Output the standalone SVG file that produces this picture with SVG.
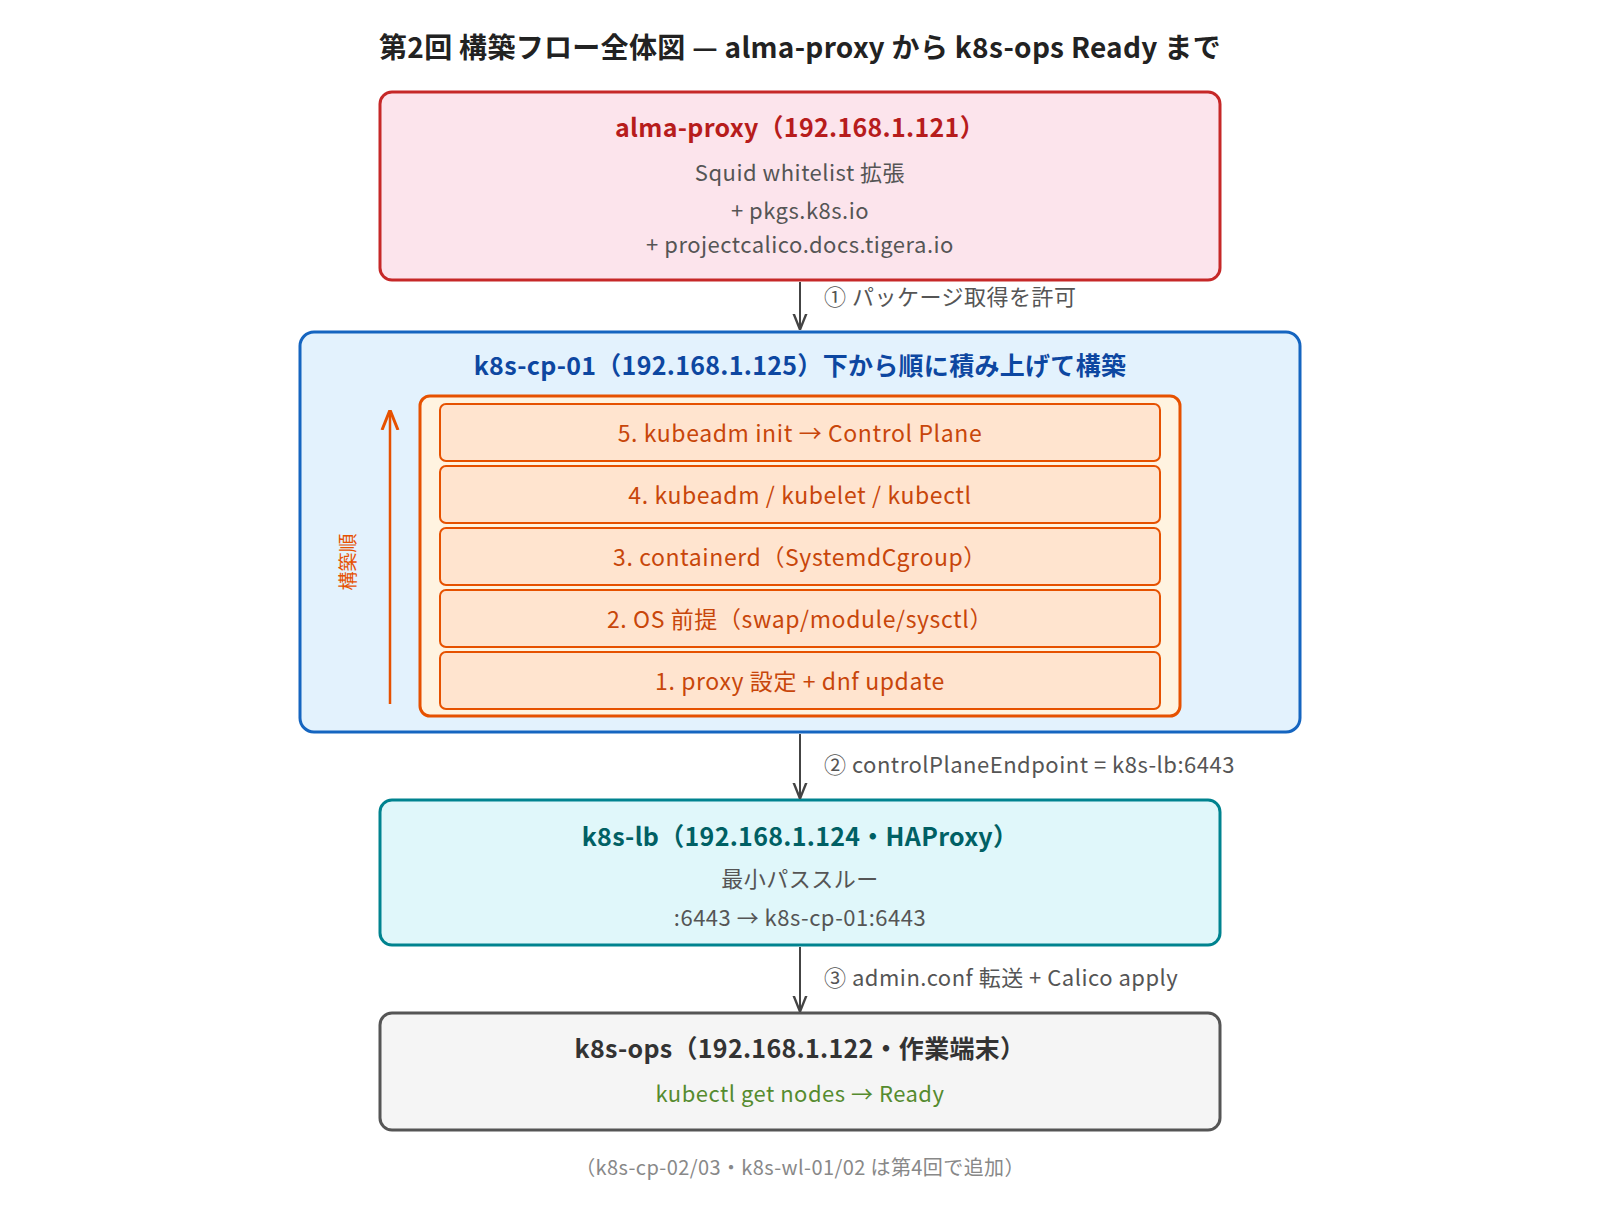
<svg xmlns="http://www.w3.org/2000/svg" width="1600" height="1220" viewBox="0 0 1600 1220">
<defs>
<style>
text{font-family:"Noto Sans CJK JP","Noto Sans",sans-serif;text-anchor:middle}
.t{font-size:25px;font-weight:bold;letter-spacing:0.3px}
.s{font-size:22px;fill:#555;letter-spacing:0.5px}
.l{font-size:22px;fill:#555;text-anchor:start;letter-spacing:0.5px}
.layer{fill:#ffe4cf;stroke:#e65100;stroke-width:2}
.lt{font-size:23px;fill:#c8460a;letter-spacing:0.6px}
.c{stroke:#444;stroke-width:2;fill:none}
</style>
<marker id="a" viewBox="0 0 10 10" refX="9" refY="5" markerWidth="8" markerHeight="8" orient="auto-start-reverse"><path d="M0,1 L10,5 L0,9" fill="none" stroke="#444" stroke-width="1.5"/></marker>
<marker id="ao" viewBox="0 0 10 10" refX="9" refY="5" markerWidth="8" markerHeight="8" orient="auto"><path d="M0,1 L10,5 L0,9" fill="none" stroke="#e65100" stroke-width="1.5"/></marker>
</defs>
<rect width="1600" height="1220" fill="#fff"/>
<text x="800" y="58" style="font-size:28px;font-weight:bold;fill:#222;letter-spacing:0.3px">第2回 構築フロー全体図 — alma-proxy から k8s-ops Ready まで</text>
<g id="alma-proxy">
<rect x="380" y="92" width="840" height="188" rx="12" fill="#fce4ec" stroke="#c62828" stroke-width="3"/>
<text x="800" y="137" class="t" fill="#b71c1c">alma-proxy（192.168.1.121）</text>
<text x="800" y="181" class="s">Squid whitelist 拡張</text>
<text x="800" y="219" class="s">+ pkgs.k8s.io</text>
<text x="800" y="253" class="s">+ projectcalico.docs.tigera.io</text>
</g>
<g id="k8s-cp-01">
<rect x="300" y="332" width="1000" height="400" rx="14" fill="#e3f2fd" stroke="#1565c0" stroke-width="3"/>
<text x="800" y="375" class="t" fill="#0d47a1">k8s-cp-01（192.168.1.125）下から順に積み上げて構築</text>
<rect x="420" y="396" width="760" height="320" rx="10" fill="#fff3e0" stroke="#e65100" stroke-width="3"/>
<rect class="layer" x="440" y="404" width="720" height="57" rx="6"/><text class="lt" x="800" y="442">5. kubeadm init → Control Plane</text>
<rect class="layer" x="440" y="466" width="720" height="57" rx="6"/><text class="lt" x="800" y="504">4. kubeadm / kubelet / kubectl</text>
<rect class="layer" x="440" y="528" width="720" height="57" rx="6"/><text class="lt" x="800" y="566">3. containerd（SystemdCgroup）</text>
<rect class="layer" x="440" y="590" width="720" height="57" rx="6"/><text class="lt" x="800" y="628">2. OS 前提（swap/module/sysctl）</text>
<rect class="layer" x="440" y="652" width="720" height="57" rx="6"/><text class="lt" x="800" y="690">1. proxy 設定 + dnf update</text>
<line x1="390" y1="704" x2="390" y2="412" stroke="#e65100" stroke-width="2.5" marker-end="url(#ao)"/>
<text x="0" y="0" transform="translate(355,562) rotate(-90)" style="font-size:19px;fill:#e65100">構築順</text>
</g>
<g id="k8s-lb">
<rect x="380" y="800" width="840" height="145" rx="12" fill="#e0f7fa" stroke="#00838f" stroke-width="3"/>
<text x="800" y="846" class="t" fill="#006064">k8s-lb（192.168.1.124・HAProxy）</text>
<text x="800" y="887" class="s">最小パススルー</text>
<text x="800" y="926" class="s">:6443 → k8s-cp-01:6443</text>
</g>
<g id="k8s-ops">
<rect x="380" y="1013" width="840" height="117" rx="12" fill="#f5f5f5" stroke="#555" stroke-width="3"/>
<text x="800" y="1058" class="t" fill="#333">k8s-ops（192.168.1.122・作業端末）</text>
<text x="800" y="1102" style="font-size:22px;fill:#558b2f;letter-spacing:0.5px">kubectl get nodes → Ready</text>
</g>
<g id="connectors">
<line class="c" x1="800" y1="282" x2="800" y2="328" marker-end="url(#a)"/>
<text x="824" y="305" class="l">① パッケージ取得を許可</text>
<line class="c" x1="800" y1="734" x2="800" y2="797" marker-end="url(#a)"/>
<text x="824" y="773" class="l">② controlPlaneEndpoint = k8s-lb:6443</text>
<line class="c" x1="800" y1="947" x2="800" y2="1010" marker-end="url(#a)"/>
<text x="824" y="986" class="l">③ admin.conf 転送 + Calico apply</text>
</g>
<text x="800" y="1175" style="font-size:20px;fill:#888;letter-spacing:0.4px">（k8s-cp-02/03・k8s-wl-01/02 は第4回で追加）</text>
</svg>
